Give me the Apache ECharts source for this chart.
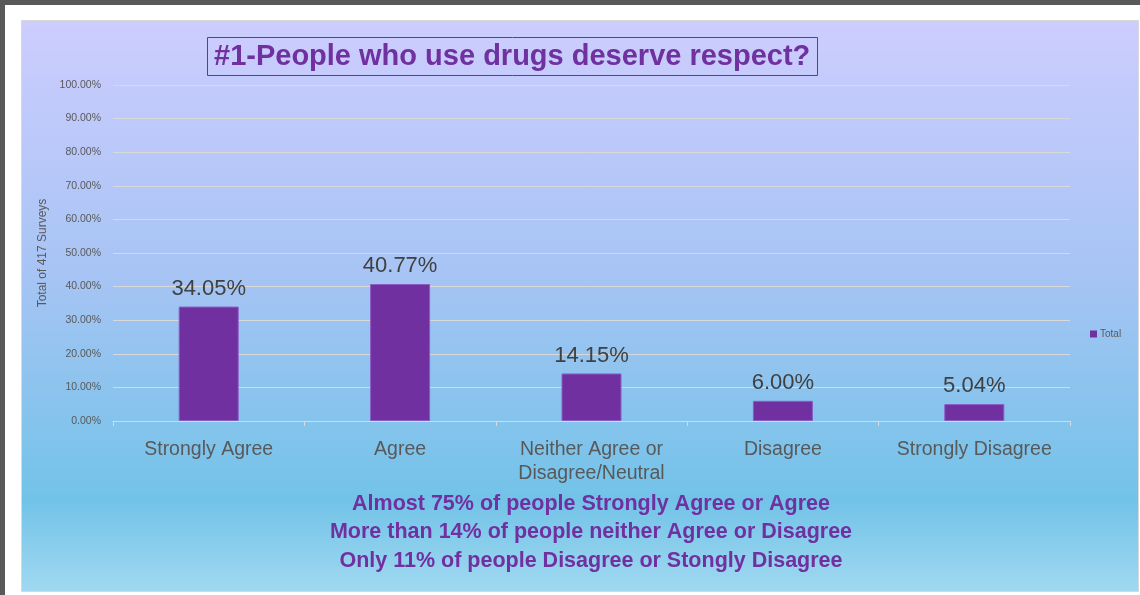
<!DOCTYPE html>
<html>
<head>
<meta charset="utf-8">
<script src="https://cdn.jsdelivr.net/npm/echarts@6/dist/echarts.min.js"></script>
<style>
  html, body { margin: 0; padding: 0; background: #ffffff; width: 1140px; height: 595px; overflow: hidden; }
  #frame { position: absolute; left: 0; top: 0; width: 1135px; height: 590px;
           border-top: 5px solid #595959; border-left: 5px solid #595959; background: #ffffff; }
  #chart { position: absolute; left: 22px; top: 21px; width: 1116px; height: 570px;
           box-shadow: 0 0 0 1px #d9d9d9; }
</style>
</head>
<body>
<div id="frame"></div>
<div id="chart"></div>
<script>
// Survey question #1 responses
const categories = ['Strongly Agree', 'Agree', 'Neither Agree or\nDisagree/Neutral', 'Disagree', 'Strongly Disagree'];
const totals = [34.05, 40.77, 14.15, 6.00, 5.04];
const yTicks = { min: 0, max: 100, interval: 10 };
const notes = [
  'Almost 75% of people Strongly Agree or Agree',
  'More than 14% of people neither Agree or Disagree',
  'Only 11% of people Disagree or Stongly Disagree'
];

const FONT = '"Liberation Sans", Arial, sans-serif';
const PURPLE = '#7030A0';

const chart = echarts.init(document.getElementById('chart'));
chart.setOption({
  backgroundColor: new echarts.graphic.LinearGradient(0, 0, 0, 1, [
    { offset: 0, color: '#cdcdfe' },
    { offset: 0.45, color: '#a6c4f4' },
    { offset: 0.84, color: '#72c3e8' },
    { offset: 1, color: '#a0d8f0' }
  ]),
  title: {
    text: '#1-People who use drugs deserve respect?',
    left: 185,
    top: 16,
    padding: [5, 7, 5, 7],
    borderColor: PURPLE,
    borderWidth: 1,
    textStyle: { fontFamily: FONT, fontSize: 29, fontWeight: 'bold', color: PURPLE }
  },
  legend: {
    data: ['Total'],
    orient: 'vertical',
    left: 1063,
    top: 303,
    itemWidth: 7,
    itemHeight: 7,
    icon: 'rect',
    itemStyle: { borderWidth: 0, color: PURPLE },
    textStyle: { fontFamily: FONT, fontSize: 10, color: '#595959', padding: [0, 0, 0, -2] }
  },
  grid: { left: 91, right: 68, top: 64, bottom: 170, containLabel: false },
  xAxis: {
    type: 'category',
    data: categories,
    axisLine: { lineStyle: { color: '#d9d9d9', width: 1 } },
    axisTick: { show: true, length: 5, lineStyle: { color: '#d9d9d9' } },
    axisLabel: { interval: 0, fontFamily: FONT, fontSize: 19.5, color: '#595959', margin: 17, lineHeight: 24 }
  },
  yAxis: {
    type: 'value',
    min: yTicks.min,
    max: yTicks.max,
    interval: yTicks.interval,
    name: 'Total of 417 Surveys',
    nameLocation: 'middle',
    nameGap: 60,
    nameTextStyle: { fontFamily: FONT, fontSize: 12, color: '#595959' },
    axisLine: { show: false },
    axisTick: { show: false },
    splitLine: { lineStyle: { color: '#d9d9d9', width: 1 } },
    axisLabel: {
      fontFamily: FONT, fontSize: 10.5, color: '#595959', margin: 12,
      formatter: v => v.toFixed(2) + '%'
    }
  },
  series: [{
    name: 'Total',
    type: 'bar',
    data: totals,
    barWidth: 60,
    itemStyle: { color: PURPLE, borderColor: '#8a5cc4', borderWidth: 1 },
    label: {
      show: true,
      position: 'top',
      distance: 7,
      fontFamily: FONT,
      fontSize: 22,
      color: '#404040',
      formatter: p => p.value.toFixed(2) + '%'
    }
  }],
  graphic: notes.map((t, i) => ({
    type: 'text',
    x: 569,
    y: 483 + i * 28.5,
    style: {
      text: t, fontFamily: FONT, fontSize: 21.5, fontWeight: 'bold', fill: PURPLE,
      align: 'center', verticalAlign: 'middle'
    }
  }))
});
</script>
</body>
</html>
